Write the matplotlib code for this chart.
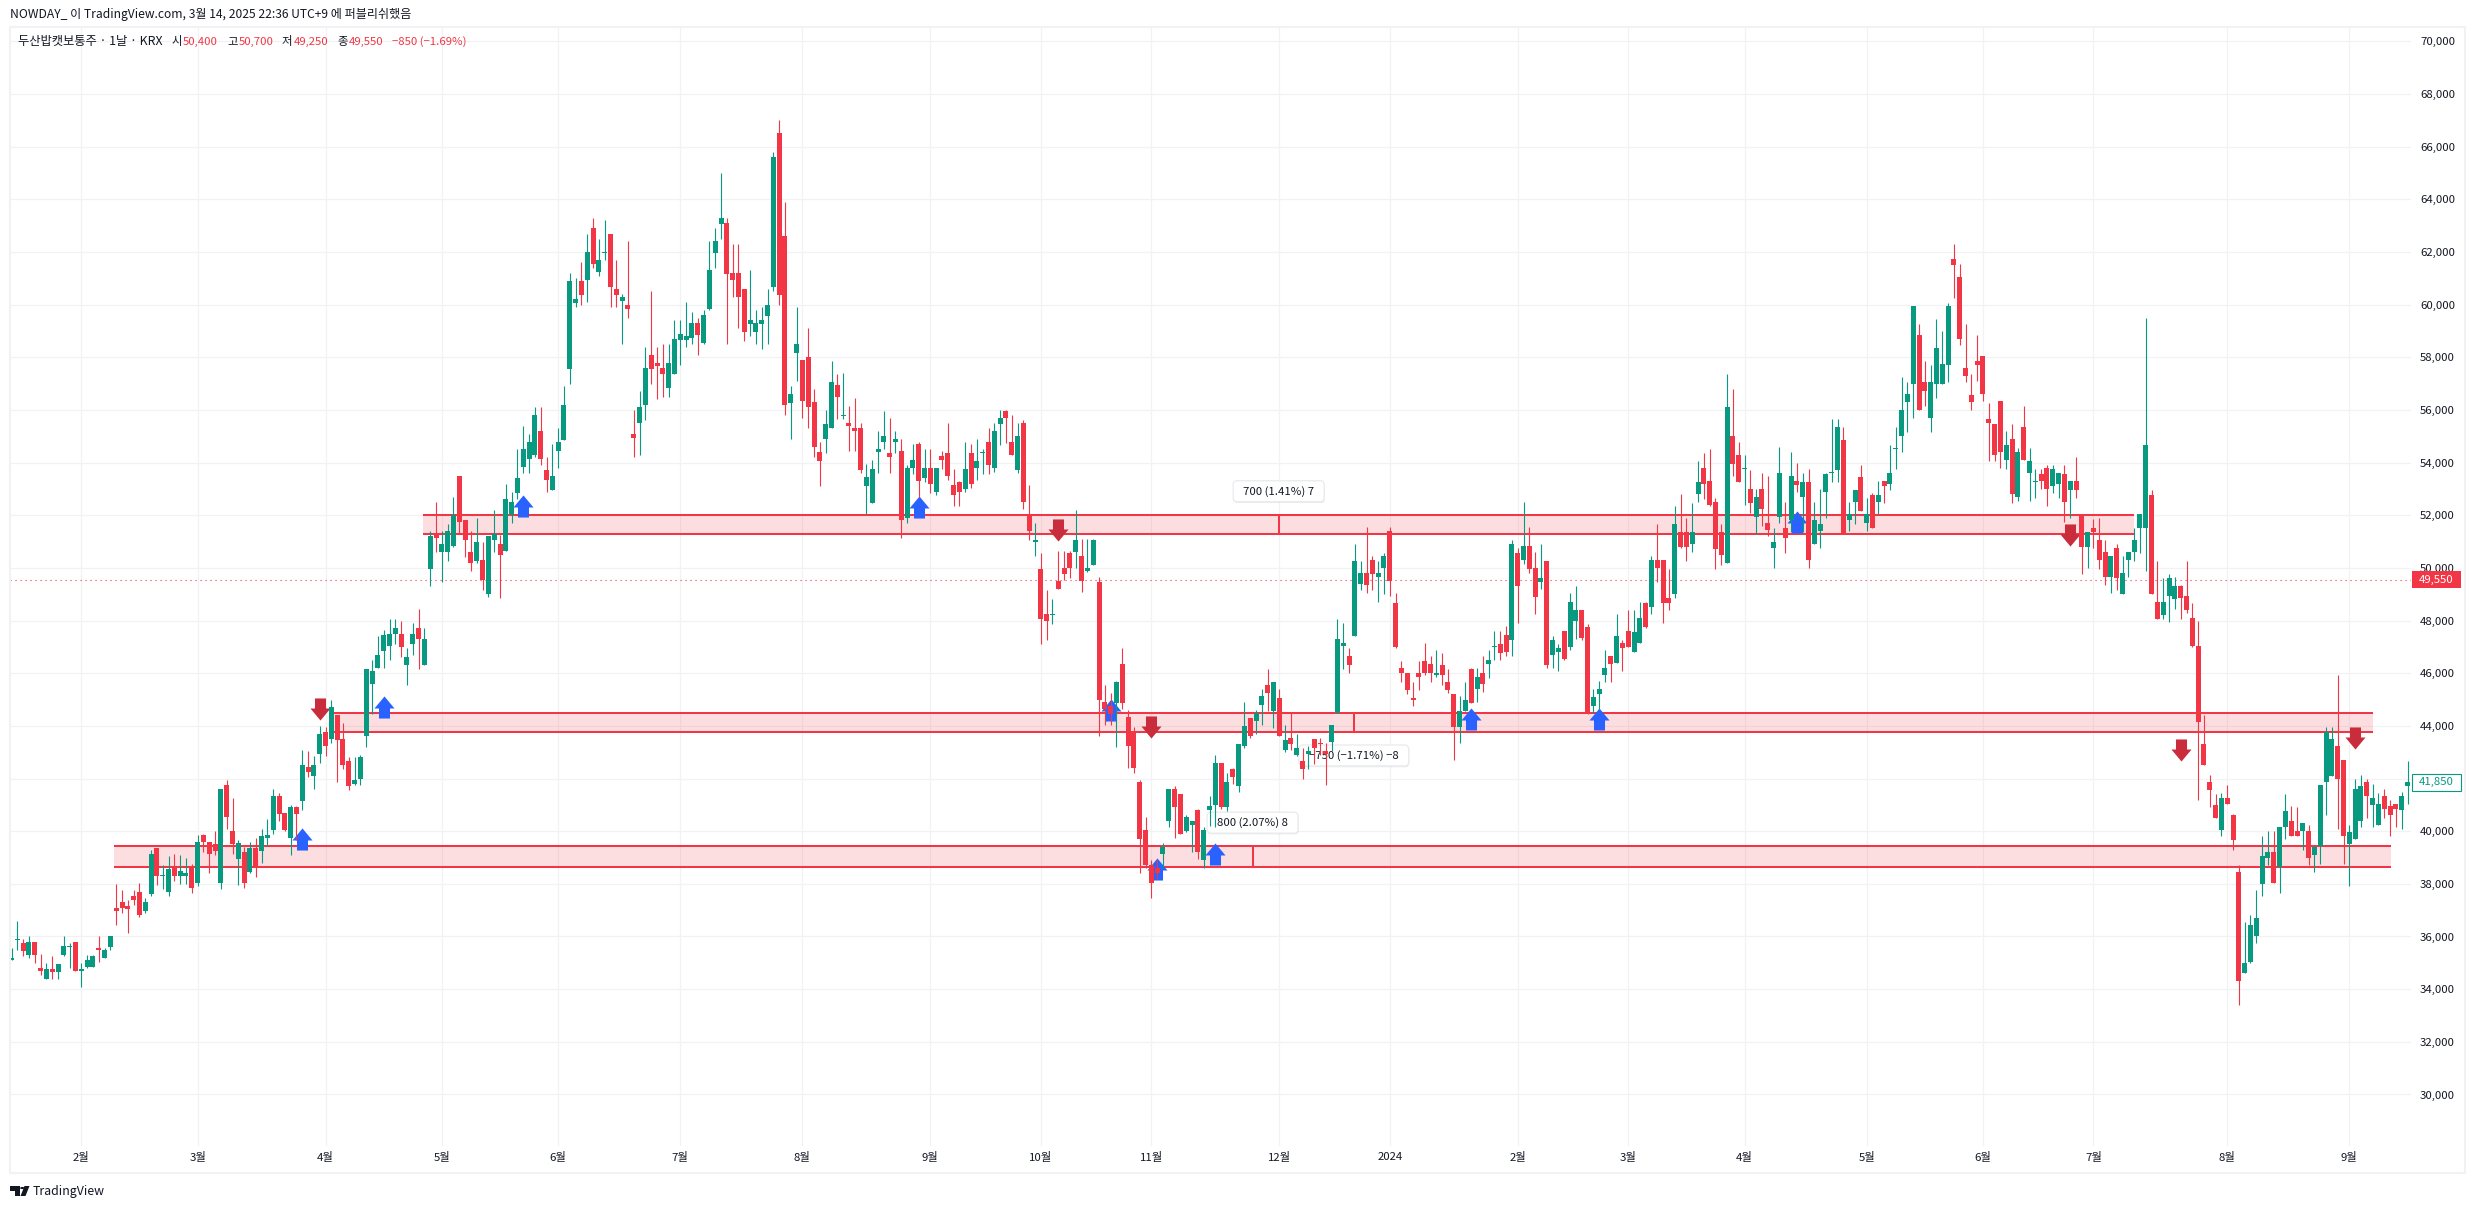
import matplotlib
matplotlib.use("Agg")
import matplotlib.pyplot as plt
import matplotlib.patheffects as pe
import numpy as np
from matplotlib.patches import BoxStyle, Circle, Polygon, Rectangle
from matplotlib.path import Path
from matplotlib.transforms import blended_transform_factory

plt.rcParams['font.family'] = ['Noto Sans CJK KR', 'DejaVu Sans']

opens = [
    35100, 35850, 35750, 35300, 35800, 34800, 34400, 34750, 34650, 35300,
    35600, 35800, 34700, 34850, 34850, 35550, 35200, 35600, 37100, 37300,
    37150, 37550, 37700, 36950, 37600, 39350, 38300, 37700, 38650, 38300,
    38300, 38650, 38050, 39850, 39600, 39500, 38050, 41750, 40000, 38950,
    39200, 38450, 39350, 39250, 39750, 40050, 41350, 40700, 39750, 40900,
    41150, 42450, 42100, 42950, 43750, 43500, 44400, 43500, 42650, 41800,
    42000, 43600, 45600, 46200, 46850, 47050, 47500, 47500, 46300, 47100,
    47700, 46300, 49950, 51300, 50600, 50600, 50850, 53500, 51800, 50600,
    50250, 50300, 49000, 51050, 50900, 50650, 52000, 52850, 53850, 54150,
    54300, 55200, 53700, 52950, 54450, 54850, 57550, 60050, 60900, 60950,
    62900, 61250, 61950, 62700, 60600, 60150, 60000, 55100, 55500, 56200,
    58100, 57800, 57600, 56850, 57350, 58650, 58650, 58750, 59300, 58550,
    59850, 61950, 63050, 63100, 61200, 61200, 60600, 59250, 58950, 59250,
    59550, 60650, 66500, 62600, 56250, 58150, 57900, 58000, 56300, 54400,
    54900, 55300, 56950, 55750, 55500, 55300, 55300, 53100, 52450, 54400,
    54800, 54350, 54800, 54450, 51900, 53800, 54700, 53400, 53800, 52900,
    54250, 54350, 53150, 53250, 53000, 54350, 53800, 54350, 54800, 53800,
    55450, 55950, 54800, 53700, 55500, 52050, 51000, 49950, 48250, 48200,
    49500, 50000, 50550, 50600, 50450, 49900, 50100, 49450, 44900, 44750,
    44850, 46350, 44350, 43800, 41850, 40050, 38700, 38600, 39150, 40400,
    41600, 41400, 40000, 40250, 40800, 38900, 40800, 41000, 42600, 40900,
    42350, 41700, 43250, 44300, 44200, 44800, 45550, 44550, 45050, 43100,
    43550, 42900, 42650, 42950, 43500, 43350, 43050, 43400, 44500, 47050,
    46650, 47400, 49400, 49800, 50300, 49650, 50000, 51400, 48650, 46200,
    46000, 45050, 46000, 46450, 46350, 45950, 46300, 45650, 45200, 43950,
    44550, 46150, 45400, 46000, 46350, 47000, 47100, 47450, 47250, 50550,
    50300, 50850, 50000, 49450, 50250, 46700, 46800, 47600, 47000, 48000,
    48400, 47750, 44750, 45200, 45950, 46650, 46400, 47150, 47600, 46800,
    47150, 48650, 48500, 50300, 50300, 48850, 49000, 51350, 51350, 50900,
    52800, 53800, 53300, 52500, 51350, 50200, 55000, 54300, 53750, 53000,
    51950, 53000, 51700, 50750, 51950, 51500, 51800, 53300, 52700, 53250,
    50900, 51400, 52900, 53600, 53700, 54850, 51800, 52500, 53450, 51700,
    52750, 52500, 53300, 53200, 54500, 55000, 56300, 57000, 58850, 57050,
    55700, 57000, 57000, 57700, 61750, 61050, 57600, 56550, 57850, 58050,
    55650, 55450, 56350, 54100, 54900, 52700, 55350, 53600, 53250, 53550,
    53800, 53100, 53200, 53550, 52950, 53300, 52050, 50800, 51500, 51050,
    50600, 49650, 50750, 49000, 50300, 50600, 51500, 51500, 52750, 48700,
    48200, 48950, 48800, 49300, 48950, 48100, 47050, 43300, 41850, 41000,
    40050, 41250, 40600, 38450, 34600, 35050, 36000, 38000, 39000, 39200,
    38650, 40150, 40400, 40000, 40000, 40000, 39100, 39450, 41850, 42100,
    43250, 42700, 39500, 39700, 40400, 41850, 41000, 40250, 41350, 40950,
    41050, 40800, 41700,
]
closes = [
    35200, 35900, 35450, 35800, 35300, 34700, 34750, 34650, 34950, 35650,
    35650, 34700, 34750, 35100, 35250, 35500, 35500, 36000, 36950, 37100,
    37050, 37400, 36800, 37300, 39150, 38300, 38350, 38550, 38300, 38500,
    38400, 37850, 39600, 39600, 39150, 39250, 41600, 40550, 39500, 39550,
    38050, 39350, 38650, 39800, 39850, 41350, 40650, 40050, 40900, 40650,
    42500, 42250, 42500, 43700, 43250, 44700, 43450, 42500, 41700, 41950,
    42800, 46150, 46100, 46700, 47450, 47500, 47700, 47000, 46600, 47500,
    47300, 47300, 51200, 51150, 50900, 51400, 52000, 51750, 51050, 50200,
    51000, 49550, 51200, 51300, 50500, 52600, 52500, 53400, 54500, 54800,
    55800, 54150, 53350, 53500, 54800, 56200, 60900, 60200, 60350, 62000,
    61550, 61700, 62000, 60650, 60350, 60300, 59850, 54950, 56100, 57600,
    57550, 57650, 57350, 57800, 58700, 58900, 58800, 59300, 58850, 59600,
    61300, 62400, 63300, 61150, 60950, 60300, 58950, 59400, 59300, 59400,
    60000, 65600, 60350, 56200, 56600, 58500, 56350, 56100, 54600, 54050,
    55450, 57050, 56500, 55800, 55400, 55200, 53700, 53450, 53750, 54500,
    55000, 54200, 54900, 51800, 53800, 54100, 53300, 53800, 53200, 53800,
    54100, 53500, 52750, 52900, 53750, 53200, 54050, 54400, 53900, 55200,
    55700, 55700, 54300, 55000, 52500, 51400, 51050, 48050, 48000, 48250,
    49200, 49750, 50000, 51050, 49500, 50000, 51050, 45000, 44650, 44450,
    45650, 44850, 43250, 42400, 39700, 38700, 38050, 38400, 39400, 41600,
    40900, 39900, 40550, 40400, 39200, 40050, 40950, 42600, 40900, 41850,
    42050, 43300, 44000, 43600, 44500, 45150, 45250, 45650, 43600, 43450,
    43300, 43150, 42350, 43050, 43150, 43300, 42950, 44050, 47300, 47150,
    46300, 50250, 49800, 49350, 49750, 49800, 50450, 49500, 47000, 46000,
    45350, 45000, 45850, 46000, 46000, 46000, 45950, 45350, 43950, 44550,
    45000, 44850, 45850, 45600, 46500, 47050, 46750, 46800, 50900, 49300,
    50850, 49950, 48900, 49600, 46300, 47250, 46950, 46550, 48700, 48400,
    47350, 44500, 45100, 45400, 46200, 46350, 47400, 46950, 47000, 47550,
    48100, 47750, 50300, 50000, 48650, 48650, 51650, 50800, 50800, 51350,
    53250, 53200, 52400, 50700, 50500, 56100, 53950, 53250, 53800, 52450,
    52700, 52250, 51450, 51000, 53600, 51150, 53500, 53150, 53250, 50300,
    51800, 51650, 53550, 53650, 55350, 51300, 52050, 52950, 52150, 52050,
    51500, 52750, 53100, 53600, 54550, 56000, 56600, 59950, 56000, 56700,
    57050, 58350, 57750, 59950, 61500, 58700, 57300, 56300, 57700, 56600,
    55500, 54300, 54400, 54650, 52800, 54400, 54100, 54050, 53300, 53300,
    53000, 53750, 53600, 52500, 53300, 52950, 50800, 51350, 51350, 50300,
    49650, 50450, 49600, 49800, 50600, 51050, 52050, 54650, 49000, 48050,
    48700, 49600, 49300, 48850, 48400, 47050, 44150, 42500, 41550, 40500,
    41250, 41050, 39650, 34300, 35000, 36450, 36700, 39050, 39200, 38050,
    40150, 40750, 39800, 39800, 40300, 39000, 39400, 41750, 43750, 43500,
    42000, 39800, 39950, 41600, 41700, 41350, 41250, 41050, 40850, 40600,
    40850, 41350, 41850,
]
highs = [
    35550, 36600, 35900, 36000, 35800, 35350, 35000, 35250, 34950, 36000,
    35750, 35800, 35000, 35300, 35300, 36000, 35550, 36000, 38000, 37750,
    37400, 37750, 38050, 37450, 39300, 39350, 38700, 39050, 39150, 39100,
    39000, 38750, 39850, 39900, 39600, 40000, 41600, 41950, 41250, 39650,
    39400, 39600, 39750, 40100, 40450, 41600, 41450, 40700, 41000, 40950,
    43100, 43050, 42850, 44000, 43950, 45000, 44400, 44100, 42800, 42800,
    42900, 46150, 46500, 47400, 47650, 48050, 48050, 48000, 46950, 47900,
    48450, 47700, 51400, 52500, 51400, 51650, 52700, 53500, 51800, 51400,
    51900, 51000, 51200, 52200, 51250, 53200, 52900, 54500, 55400, 55100,
    56100, 56100, 54200, 54700, 55300, 56900, 61200, 61000, 61600, 62700,
    63300, 62500, 63200, 62700, 61700, 60400, 62400, 56000, 56700, 58400,
    60500, 58400, 58500, 58500, 59400, 59400, 60100, 59700, 59500, 59800,
    62400, 62900, 65000, 63300, 62300, 62300, 60600, 61300, 59800, 59900,
    60600, 65800, 67000, 63900, 56900, 59900, 57900, 59100, 56800, 54800,
    56000, 57850, 57350, 57400, 56150, 56450, 55500, 53950, 54100, 55200,
    55950, 55700, 55200, 54900, 53900, 54700, 54800, 54500, 54500, 53800,
    54450, 55500, 53750, 53300, 54800, 54700, 54900, 54500, 55300, 55500,
    56000, 56000, 55800, 55500, 55600, 53150, 51700, 50550, 49150, 48800,
    50650, 50650, 50650, 52200, 51100, 51100, 51100, 49650, 45550, 45250,
    45700, 46950, 44600, 43950, 41950, 40550, 38900, 38900, 39550, 41600,
    41700, 41400, 40600, 40400, 40850, 40150, 41350, 42900, 42600, 42200,
    42400, 43300, 44900, 44300, 44600, 45400, 46150, 45650, 45400, 44050,
    44500, 43700, 43150, 43250, 43500, 43550, 43350, 44050, 48050, 47900,
    46950, 50900, 50250, 51550, 50450, 50250, 50550, 51550, 49050, 46450,
    46000, 45650, 46450, 47150, 46650, 46900, 46750, 46150, 45200, 45150,
    45650, 46200, 46200, 46650, 46900, 47600, 47600, 47800, 51050, 50750,
    52500, 51550, 50600, 50900, 50250, 47400, 47100, 47600, 49050, 49300,
    48400, 47850, 45400, 45700, 46900, 46650, 48250, 47250, 48400, 48400,
    48700, 48700, 50450, 51650, 50300, 49950, 52350, 52800, 51900, 52450,
    54050, 54350, 54500, 52650, 51650, 57350, 56800, 54800, 54300, 53700,
    53000, 53600, 53500, 51500, 54600, 52500, 54400, 54000, 53600, 53750,
    52500, 53000, 53600, 55650, 55650, 55350, 52500, 52950, 53900, 52650,
    52850, 53300, 53300, 54650, 55350, 57250, 57050, 59950, 59250, 57850,
    57700, 59450, 59000, 60050, 62300, 61550, 59250, 57350, 58850, 58050,
    56250, 55450, 56350, 55200, 55450, 54550, 56150, 54550, 53750, 53750,
    53900, 53900, 53600, 53900, 53300, 54200, 52050, 51350, 51850, 51900,
    51050, 50450, 50900, 50450, 50600, 51500, 52050, 59500, 52950, 50250,
    49600, 49750, 49650, 49350, 50250, 48650, 48000, 44400, 42150, 41400,
    41450, 41750, 40650, 38700, 36550, 36800, 37750, 39800, 40000, 40000,
    40150, 41400, 40950, 40900, 40300, 40250, 39450, 41750, 43950, 43950,
    45950, 42700, 40250, 42000, 42150, 42000, 41800, 41450, 41600, 41200,
    41050, 41500, 42650,
]
lows = [
    35100, 35500, 35250, 35200, 35000, 34550, 34400, 34400, 34400, 35250,
    34800, 34700, 34100, 34800, 34850, 35050, 35200, 35500, 36450, 36900,
    36150, 37200, 36750, 36900, 37550, 37950, 37800, 37550, 38100, 38000,
    38000, 37650, 37900, 39200, 38400, 39100, 37800, 40100, 39150, 37950,
    37850, 38400, 38250, 38800, 39450, 39900, 40400, 40000, 39100, 39650,
    40800, 42050, 41600, 42600, 42850, 43350, 41850, 42350, 41550, 41750,
    41750, 43200, 44450, 46200, 46200, 46500, 47100, 46600, 45550, 46700,
    46150, 46300, 49300, 50600, 49450, 50250, 50800, 51300, 50400, 49900,
    50200, 49150, 48900, 50600, 48850, 50650, 51700, 52600, 53600, 53600,
    54200, 53900, 52900, 52950, 53800, 54850, 57000, 59900, 60000, 60100,
    61400, 61100, 61700, 59900, 59900, 58500, 59500, 54200, 54300, 55600,
    57000, 56400, 56500, 56500, 57350, 57700, 58400, 58500, 58100, 58500,
    59800, 61400, 62500, 58500, 60300, 59100, 58600, 58800, 58500, 58300,
    58500, 60500, 60000, 55800, 54900, 57100, 55700, 55300, 54200, 53100,
    54350, 55300, 55650, 55650, 54450, 54450, 53600, 52050, 52450, 53600,
    54500, 53600, 54350, 51150, 51700, 53550, 52700, 53250, 52850, 52750,
    53750, 53350, 52350, 52350, 52900, 53050, 53350, 53550, 53550, 53650,
    54650, 54750, 54300, 53600, 52250, 51050, 50450, 47100, 47250, 47850,
    49200, 49550, 49600, 50000, 49100, 49850, 50100, 43600, 44050, 44050,
    43200, 44650, 42400, 42200, 38400, 38600, 37450, 38200, 38600, 40150,
    39750, 39900, 39950, 39200, 38950, 38600, 40200, 40150, 40850, 40750,
    41800, 41500, 43150, 43550, 43700, 44050, 44550, 43900, 43600, 43000,
    43100, 42850, 42000, 42350, 42550, 42900, 41750, 43050, 44500, 46150,
    46000, 47400, 49150, 49050, 49150, 48700, 49000, 48950, 46950, 45650,
    45200, 44750, 45350, 45950, 45650, 45850, 45550, 45250, 42700, 43350,
    44550, 44850, 44900, 45300, 45800, 46500, 46500, 46650, 46650, 47900,
    50150, 49800, 48250, 49200, 46200, 46200, 46100, 46500, 46900, 47300,
    47250, 44450, 44500, 44600, 45650, 45650, 46400, 46100, 47000, 46800,
    47150, 47700, 48250, 49450, 47900, 48400, 48850, 50750, 50250, 50600,
    52500, 52600, 52350, 49950, 50100, 50200, 53500, 53250, 52400, 52100,
    51300, 51600, 51200, 50000, 51700, 50550, 51350, 52900, 51350, 50000,
    50900, 50750, 51900, 53250, 53250, 51300, 51400, 51650, 52150, 51400,
    51500, 52050, 52450, 52950, 53750, 54400, 55150, 55700, 56000, 56150,
    55150, 56450, 57000, 57050, 60250, 58450, 57050, 56000, 57100, 56350,
    54050, 54050, 53800, 53750, 52450, 52550, 54100, 52550, 52650, 53000,
    52350, 52850, 52650, 51750, 51900, 52650, 49750, 50000, 50750, 49950,
    49350, 49050, 49150, 49000, 49650, 50250, 50550, 49900, 49000, 48050,
    48050, 47950, 48450, 48050, 48300, 47000, 41200, 42500, 40900, 40500,
    39800, 41050, 39300, 33400, 34600, 35000, 35750, 37550, 38700, 38050,
    37650, 39700, 39800, 39800, 39300, 38700, 38450, 38750, 40600, 42100,
    40100, 38750, 37900, 39700, 40150, 40500, 40150, 40250, 40500, 39800,
    40150, 40100, 41050,
]

# month ticks, as bar numbers
month_bars = [12, 32, 54, 74, 94, 115, 136, 158, 177, 196, 218, 237, 259, 278, 298, 319, 339, 358, 381, 402]
month_labels = ['2월', '3월', '4월', '5월', '6월', '7월', '8월', '9월', '10월', '11월', '12월', '2024',
                '2월', '3월', '4월', '5월', '6월', '7월', '8월', '9월']
price_ticks = list(range(30000, 70001, 2000))

# support / resistance boxes: start bar, end bar, low, high, label
band_starts = [70.8, 55.5, 17.7]
band_ends = [365.0, 406.1, 409.1]
band_lows = [51300, 43750, 38650]
band_highs = [52000, 44500, 39450]
band_labels = ['700 (1.41%) 7', '\u2212750 (\u22121.71%) \u22128', '800 (2.07%) 8']

# signal arrows, centre price of each arrow
buy_bars = [50, 64, 88, 156, 189, 197, 207, 251, 273, 307]
buy_prices = [39700, 44700, 52350, 52300, 44600, 38550, 39150, 44250, 44250, 51750]
sell_bars = [53, 180, 196, 354, 373, 403]
sell_prices = [44650, 51450, 43950, 51250, 43100, 43550]

last_red = 49550
last_green = 41850

GREEN = '#089981'
RED = '#F23645'
GRID = '#F1F2F3'
TEXT = '#131722'
W, H = 2475, 1209
FS = 8.2

fig = plt.figure(figsize=(W / 100, H / 100), dpi=100, facecolor='white')
# plot area in pixels: left 10, right 2411, top 28, bottom 1146
ax = fig.add_axes([10 / W, 1 - 1146 / H, 2401 / W, 1118 / H])
ax.set_facecolor('white')
for s in ax.spines.values():
    s.set_visible(False)

bars = np.arange(len(closes))
o, c = np.array(opens), np.array(closes)
colors = [GREEN if up else RED for up in c >= o]

ax.set_axisbelow(True)
ax.grid(True, color=GRID, linewidth=0.9)

# boxes
for x0, x1, lo, hi in zip(band_starts, band_ends, band_lows, band_highs):
    ax.fill_between([x0, x1], lo, hi, color=RED, alpha=0.16, linewidth=0, zorder=2)
    ax.hlines([lo, hi], x0, x1, color=RED, linewidth=1.45, zorder=2.1)
    ax.vlines((x0 + x1) / 2, lo, hi, color=RED, linewidth=1.45, zorder=2.1)


def label_box(x0, y0, w, h, mutation_size):
    # wider than text padding allows, so the label sits in a pill like the original
    return BoxStyle.Round(pad=0, rounding_size=4)(x0 - 10, y0 - 5, w + 20, h + 10, 1)


# range labels sit above the box, or below it when the move is negative
label_y = [band_highs[0], band_lows[1], band_highs[2]]
label_dy = [24, -23, 23]
for x0, x1, y, dy, txt in zip(band_starts, band_ends, label_y, label_dy, band_labels):
    ax.annotate(txt, ((x0 + x1) / 2, y), xytext=(0, dy), textcoords='offset pixels',
                ha='center', va='center', fontsize=FS, color=TEXT, zorder=3,
                bbox=dict(boxstyle=label_box, fc='white', ec='#E9EAEC', linewidth=0.9,
                          path_effects=[pe.SimplePatchShadow(offset=(0.5, -1), shadow_rgbFace='black', alpha=0.07),
                                        pe.Normal()]))

# last price line
ax.axhline(last_red, color=RED, linewidth=0.8, linestyle=(0, (1, 3.5)), zorder=2.5)

# arrows, fixed 22 px tall whatever the scale
up_arrow = Path([(0, 11), (10, -1), (5.5, -1), (5.5, -11), (-5.5, -11), (-5.5, -1), (-10, -1), (0, 11)], closed=True)
down_arrow = Path([(0, -11), (10, 1), (5.5, 1), (5.5, 11), (-5.5, 11), (-5.5, 1), (-10, 1), (0, -11)], closed=True)
ax.plot(buy_bars, buy_prices, linestyle='none', marker=up_arrow, markersize=15.9,
        markerfacecolor='#2962FF', markeredgewidth=0, zorder=3)
ax.plot(sell_bars, sell_prices, linestyle='none', marker=down_arrow, markersize=15.9,
        markerfacecolor='#C92D3C', markeredgewidth=0, zorder=3)

# candles
ax.vlines(bars, lows, highs, colors=colors, linewidth=0.8, zorder=4)
ax.bar(bars, np.abs(c - o), bottom=np.minimum(o, c), width=0.86, color=colors, linewidth=0, zorder=5)

ax.set_xlim(-0.26, 412.6)
ax.set_ylim(28043, 70505)
ax.set_xticks(month_bars)
ax.set_xticklabels(month_labels)
ax.set_yticks(price_ticks)
ax.set_yticklabels([f'{p:,}' for p in price_ticks])
ax.yaxis.tick_right()
ax.tick_params(axis='both', length=0, labelsize=FS, labelcolor=TEXT)
ax.tick_params(axis='y', pad=6.5)
ax.tick_params(axis='x', pad=4)

# price tags on the scale
tag_trans = blended_transform_factory(ax.transAxes, ax.transData)
tag_x, tag_w = 2402 / 2401, 49 / 2401
tag_h = 320
ax.add_patch(Rectangle((tag_x, last_red - tag_h), tag_w, 2 * tag_h, transform=tag_trans, fc=RED, ec='none',
                       clip_on=False, zorder=6))
ax.text(tag_x + tag_w / 2, last_red, f'{last_red:,}', transform=tag_trans, color='white', fontsize=FS,
        ha='center', va='center', clip_on=False, zorder=7)
ax.add_patch(Rectangle((tag_x, last_green - tag_h), tag_w, 2 * tag_h, transform=tag_trans, fc='white', ec=GREEN,
                       linewidth=0.8, clip_on=False, zorder=6))
ax.text(tag_x + tag_w / 2, last_green, f'{last_green:,}', transform=tag_trans, color=GREEN, fontsize=FS,
        ha='center', va='center', clip_on=False, zorder=7)


def px_text(x, y, s, color=TEXT, size=FS):
    fig.text(x / W, 1 - y / H, s, color=color, fontsize=size, ha='left', va='center')


# header and legend row
px_text(9.5, 14.5, 'NOWDAY_ 이 TradingView.com, 3월 14, 2025 22:36 UTC+9 에 퍼블리쉬했음', size=8.7)
px_text(18.5, 41.5, '두산밥캣보통주 · 1날 · KRX', size=8.85)
for x, s in zip([171.5, 227, 282, 337], ['시', '고', '저', '종']):
    px_text(x, 41.5, s)
for x, s in zip([183, 238.3, 293.7, 348.6, 391.7],
                ['50,400', '50,700', '49,250', '49,550', '\u2212850 (\u22121.69%)']):
    px_text(x, 41.5, s, color=RED)

# panel border
fig.add_artist(Rectangle((9.5 / W, 1 - 1173 / H), 2455.5 / W, 1146 / H, transform=fig.transFigure,
                         fc='none', ec=GRID, linewidth=1.5))

# TradingView logo
def logo_xy(points):
    return [(x / W, 1 - y / H) for x, y in points]


fig.add_artist(Polygon(logo_xy([(9.5, 1186), (20, 1186), (20, 1196), (15, 1196), (15, 1190.5), (9.5, 1190.5)]),
                       transform=fig.transFigure, fc=TEXT, ec='none'))
fig.add_artist(Polygon(logo_xy([(24.5, 1186), (29.5, 1186), (25.5, 1196), (20.5, 1196)]),
                       transform=fig.transFigure, fc=TEXT, ec='none'))
fig.add_artist(Circle((22.3 / W, 1 - 1188 / H), 2.2 / W, transform=fig.transFigure, fc=TEXT, ec='none'))
px_text(33, 1191.5, 'TradingView', size=8.9)

fig.savefig('out.png', dpi=100)
